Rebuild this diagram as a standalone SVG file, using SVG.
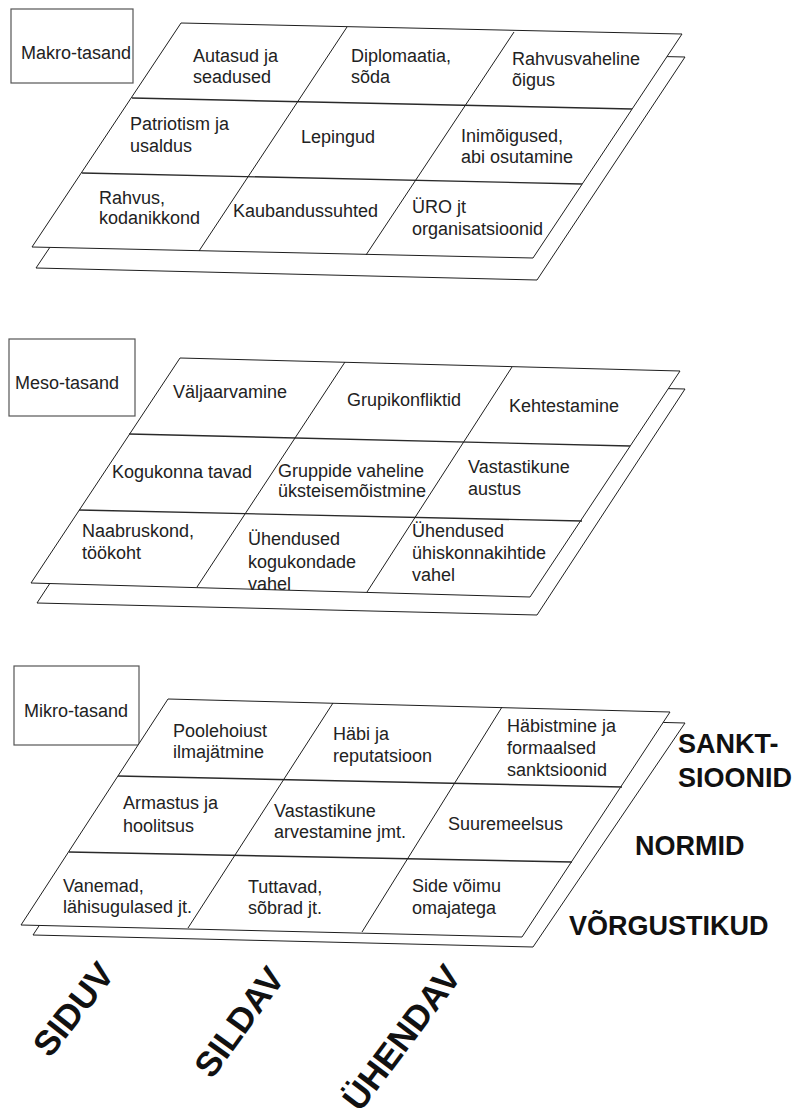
<svg xmlns="http://www.w3.org/2000/svg" width="797" height="1117" viewBox="0 0 797 1117">
<style>
.sheet{fill:#fff;stroke:#1e1e1e;stroke-width:1}
.grid{fill:none;stroke:#1e1e1e;stroke-width:1}
.row{fill:none;stroke:#2a2a2a;stroke-width:1.4}
.box{fill:#fff;stroke:#555;stroke-width:1.2}
.t{font-family:"Liberation Sans",Arial,sans-serif;font-size:18px;fill:#222}
.lbl{font-family:"Liberation Sans",Arial,sans-serif;font-size:18px;fill:#222}
.big{font-family:"Liberation Sans",Arial,sans-serif;font-size:27px;font-weight:bold;fill:#111}
.rot{font-family:"Liberation Sans",Arial,sans-serif;font-size:35px;font-weight:bold;fill:#111}
</style>
<rect width="797" height="1117" fill="#fff"/>

<!-- MAKRO -->
<g id="makro">
  <g id="makro-label"><rect class="box" x="11" y="9" width="122" height="74"/><text class="lbl" x="21" y="59">Makro-tasand</text></g>
  <polygon class="sheet" points="185,46 685,57 537,280 36,268"/>
  <polygon class="sheet" points="181,23 682,34 533,258 32,247"/>
  <line class="row" x1="132" y1="98" x2="632" y2="109"/>
  <line class="row" x1="82" y1="173" x2="582" y2="184"/>
  <line class="grid" x1="347" y1="27" x2="199" y2="251"/>
  <line class="grid" x1="514" y1="32" x2="366" y2="255"/>
  <g id="makro-1"><text class="t" x="193" y="62">Autasud ja</text><text class="t" x="193" y="83">seadused</text></g>
  <g id="makro-2"><text class="t" x="351" y="62">Diplomaatia,</text><text class="t" x="351" y="83">sõda</text></g>
  <g id="makro-3"><text class="t" x="512" y="65">Rahvusvaheline</text><text class="t" x="512" y="86">õigus</text></g>
  <g id="makro-4"><text class="t" x="130" y="130">Patriotism ja</text><text class="t" x="130" y="152">usaldus</text></g>
  <g id="makro-5"><text class="t" x="301" y="143">Lepingud</text></g>
  <g id="makro-6"><text class="t" x="461" y="142">Inimõigused,</text><text class="t" x="461" y="163">abi osutamine</text></g>
  <g id="makro-7"><text class="t" x="99" y="204">Rahvus,</text><text class="t" x="99" y="224">kodanikkond</text></g>
  <g id="makro-8"><text class="t" x="233" y="217">Kaubandussuhted</text></g>
  <g id="makro-9"><text class="t" x="412" y="213">ÜRO jt</text><text class="t" x="412" y="235">organisatsioonid</text></g>
</g>

<!-- MESO -->
<g id="meso">
  <g id="meso-label"><rect class="box" x="9" y="339" width="126" height="77"/><text class="lbl" x="15" y="389">Meso-tasand</text></g>
  <polygon class="sheet" points="185,377 685,389 537,615 37,603"/>
  <polygon class="sheet" points="180,358 680,371 530,597 31,583"/>
  <line class="row" x1="129" y1="434" x2="630" y2="446"/>
  <line class="row" x1="79" y1="510" x2="582" y2="521"/>
  <line class="grid" x1="345" y1="362" x2="197" y2="587"/>
  <line class="grid" x1="512" y1="367" x2="367" y2="592"/>
  <g id="meso-1"><text class="t" x="173" y="398">Väljaarvamine</text></g>
  <g id="meso-2"><text class="t" x="347" y="406">Grupikonfliktid</text></g>
  <g id="meso-3"><text class="t" x="509" y="412">Kehtestamine</text></g>
  <g id="meso-4"><text class="t" x="112" y="478">Kogukonna tavad</text></g>
  <g id="meso-5"><text class="t" x="278" y="477">Gruppide vaheline</text><text class="t" x="278" y="497">üksteisemõistmine</text></g>
  <g id="meso-6"><text class="t" x="468" y="473">Vastastikune</text><text class="t" x="468" y="495">austus</text></g>
  <g id="meso-7"><text class="t" x="82" y="537">Naabruskond,</text><text class="t" x="82" y="559">töökoht</text></g>
  <g id="meso-8"><text class="t" x="248" y="545">Ühendused</text><text class="t" x="248" y="568">kogukondade</text><text class="t" x="248" y="590">vahel</text></g>
  <g id="meso-9"><text class="t" x="412" y="537">Ühendused</text><text class="t" x="412" y="559">ühiskonnakihtide</text><text class="t" x="412" y="581">vahel</text></g>
</g>

<!-- MIKRO -->
<g id="mikro">
  <g id="mikro-label"><rect class="box" x="14" y="666" width="125" height="79"/><text class="lbl" x="24" y="717">Mikro-tasand</text></g>
  <polygon class="sheet" points="181,710 685,723 533,947 33,935"/>
  <polygon class="sheet" points="168,699 670,712 522,937 21,925"/>
  <line class="row" x1="118" y1="776" x2="622" y2="787"/>
  <line class="row" x1="69" y1="852" x2="572" y2="862"/>
  <line class="grid" x1="333" y1="703" x2="188" y2="928"/>
  <line class="grid" x1="502" y1="707" x2="362" y2="932"/>
  <g id="mikro-1"><text class="t" x="173" y="737">Poolehoiust</text><text class="t" x="173" y="758">ilmajätmine</text></g>
  <g id="mikro-2"><text class="t" x="333" y="740">Häbi ja</text><text class="t" x="333" y="762">reputatsioon</text></g>
  <g id="mikro-3"><text class="t" x="507" y="732">Häbistmine ja</text><text class="t" x="507" y="754">formaalsed</text><text class="t" x="507" y="776">sanktsioonid</text></g>
  <g id="mikro-4"><text class="t" x="123" y="809">Armastus ja</text><text class="t" x="123" y="832">hoolitsus</text></g>
  <g id="mikro-5"><text class="t" x="274" y="817">Vastastikune</text><text class="t" x="274" y="838">arvestamine jmt.</text></g>
  <g id="mikro-6"><text class="t" x="448" y="830">Suuremeelsus</text></g>
  <g id="mikro-7"><text class="t" x="63" y="892">Vanemad,</text><text class="t" x="63" y="913">lähisugulased jt.</text></g>
  <g id="mikro-8"><text class="t" x="248" y="893">Tuttavad,</text><text class="t" x="248" y="914">sõbrad jt.</text></g>
  <g id="mikro-9"><text class="t" x="412" y="892">Side võimu</text><text class="t" x="412" y="914">omajatega</text></g>
</g>

<!-- Row labels -->
<g id="sanktsioonid"><text class="big" x="678" y="753">SANKT-</text><text class="big" x="678" y="787">SIOONID</text></g>
<g id="normid"><text class="big" x="635" y="855">NORMID</text></g>
<g id="vorgustikud"><text class="big" x="569" y="935">VÕRGUSTIKUD</text></g>

<!-- Column labels -->
<g id="siduv"><text class="rot" transform="translate(50,1059) rotate(-52)">SIDUV</text></g>
<g id="sildav"><text class="rot" transform="translate(212,1080) rotate(-54)">SILDAV</text></g>
<g id="uhendav"><text class="rot" transform="translate(360,1113) rotate(-53)">ÜHENDAV</text></g>
</svg>
